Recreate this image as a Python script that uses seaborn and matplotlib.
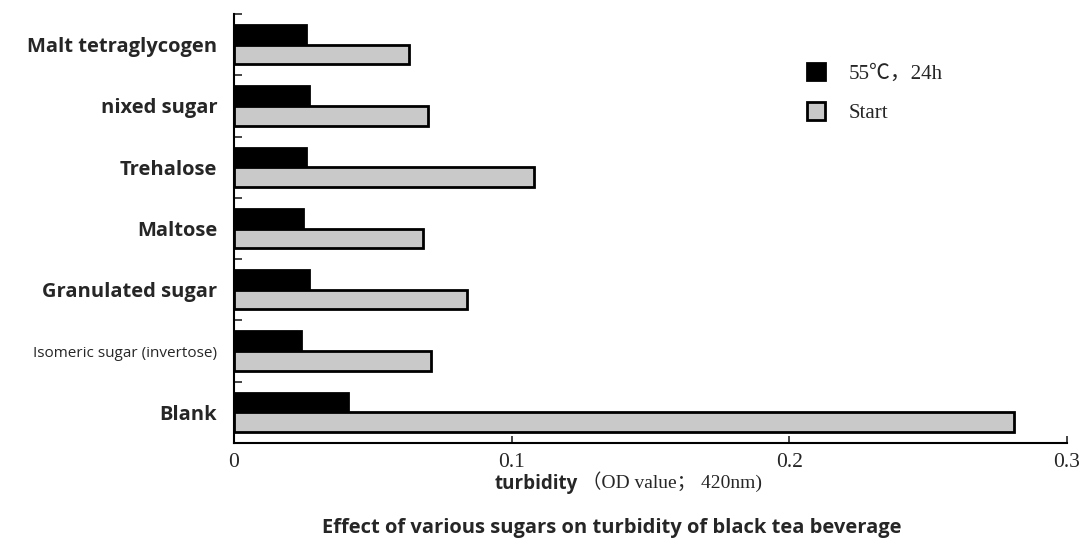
import pandas as pd
import seaborn as sns
import matplotlib.pyplot as plt

sugars = ["Malt tetraglycogen", "nixed sugar", "Trehalose", "Maltose",
          "Granulated sugar", "Isomeric sugar (invertose)", "Blank"]
heated = [0.026, 0.027, 0.026, 0.025, 0.027, 0.024, 0.041]
start = [0.063, 0.070, 0.108, 0.068, 0.084, 0.071, 0.281]
conditions = ["55℃，24h", "Start"]
xticks = [0, 0.1, 0.2, 0.3]
xticklabels = ["0", "0.1", "0.2", "0.3"]

df = pd.DataFrame({
    "sugar": sugars * 2,
    "condition": [conditions[0]] * len(sugars) + [conditions[1]] * len(sugars),
    "turbidity": heated + start,
})

sns.set_style("white")
plt.rcParams["font.family"] = ["Open Sans", "Noto Sans CJK SC", "DejaVu Sans"]

fig = plt.figure(figsize=(10.8, 5.54), dpi=100)
ax = fig.add_axes([234 / 1080, 1 - 443 / 554, (1067 - 234) / 1080, (443 - 14) / 554])

sns.barplot(data=df, y="sugar", x="turbidity", hue="condition", order=sugars,
            hue_order=conditions, palette={conditions[0]: "black", conditions[1]: "#c9c9c9"},
            orient="h", width=0.64, edgecolor="black", linewidth=2, ax=ax)

ax.set_xlim(0, 0.3)
ax.set_ylim(6.5, -0.5)
ax.set_xticks(xticks)
ax.set_xticklabels(xticklabels, family="Liberation Serif", fontsize=15.5)
ax.set_yticks([i - 0.5 for i in range(len(sugars) + 1)], minor=True)
ax.tick_params(axis="y", which="major", left=False, length=0, pad=12)
ax.tick_params(axis="y", which="minor", left=True, direction="in", length=6, width=1.2)
ax.tick_params(axis="x", bottom=True, direction="in", length=5, width=1.2, pad=7)
for lab in ax.get_yticklabels():
    lab.set_fontweight("bold")
    lab.set_fontsize(14.5)
    if lab.get_text().startswith("Isomeric"):
        lab.set_fontsize(11)
        lab.set_fontweight("normal")

sns.despine(ax=ax)
for s in ["left", "bottom"]:
    ax.spines[s].set_color("black")
    ax.spines[s].set_linewidth(1.5)

ax.set_ylabel("")
ax.set_xlabel("")
fig.text(578 / 1080, 1 - 484 / 554, "turbidity", ha="right", va="center",
         fontsize=13.5, fontweight="bold")
fig.text(582 / 1080, 1 - 482 / 554, "（OD value； 420nm)", ha="left", va="center",
         fontsize=14, family=["Liberation Serif", "Noto Sans CJK SC"])
fig.text(612 / 1080, 1 - 528 / 554, "Effect of various sugars on turbidity of black tea beverage",
         ha="center", va="center", fontsize=14.5, fontweight="bold")

leg = ax.legend(loc="upper left", bbox_to_anchor=(0.665, 0.93), frameon=False,
                handlelength=0.9, handleheight=0.9, handletextpad=1.1,
                labelspacing=0.9, fontsize=15)
for t in leg.get_texts():
    t.set_family(["Liberation Serif", "Noto Sans CJK SC"])

fig.savefig("out.png", dpi=100, facecolor="white")
